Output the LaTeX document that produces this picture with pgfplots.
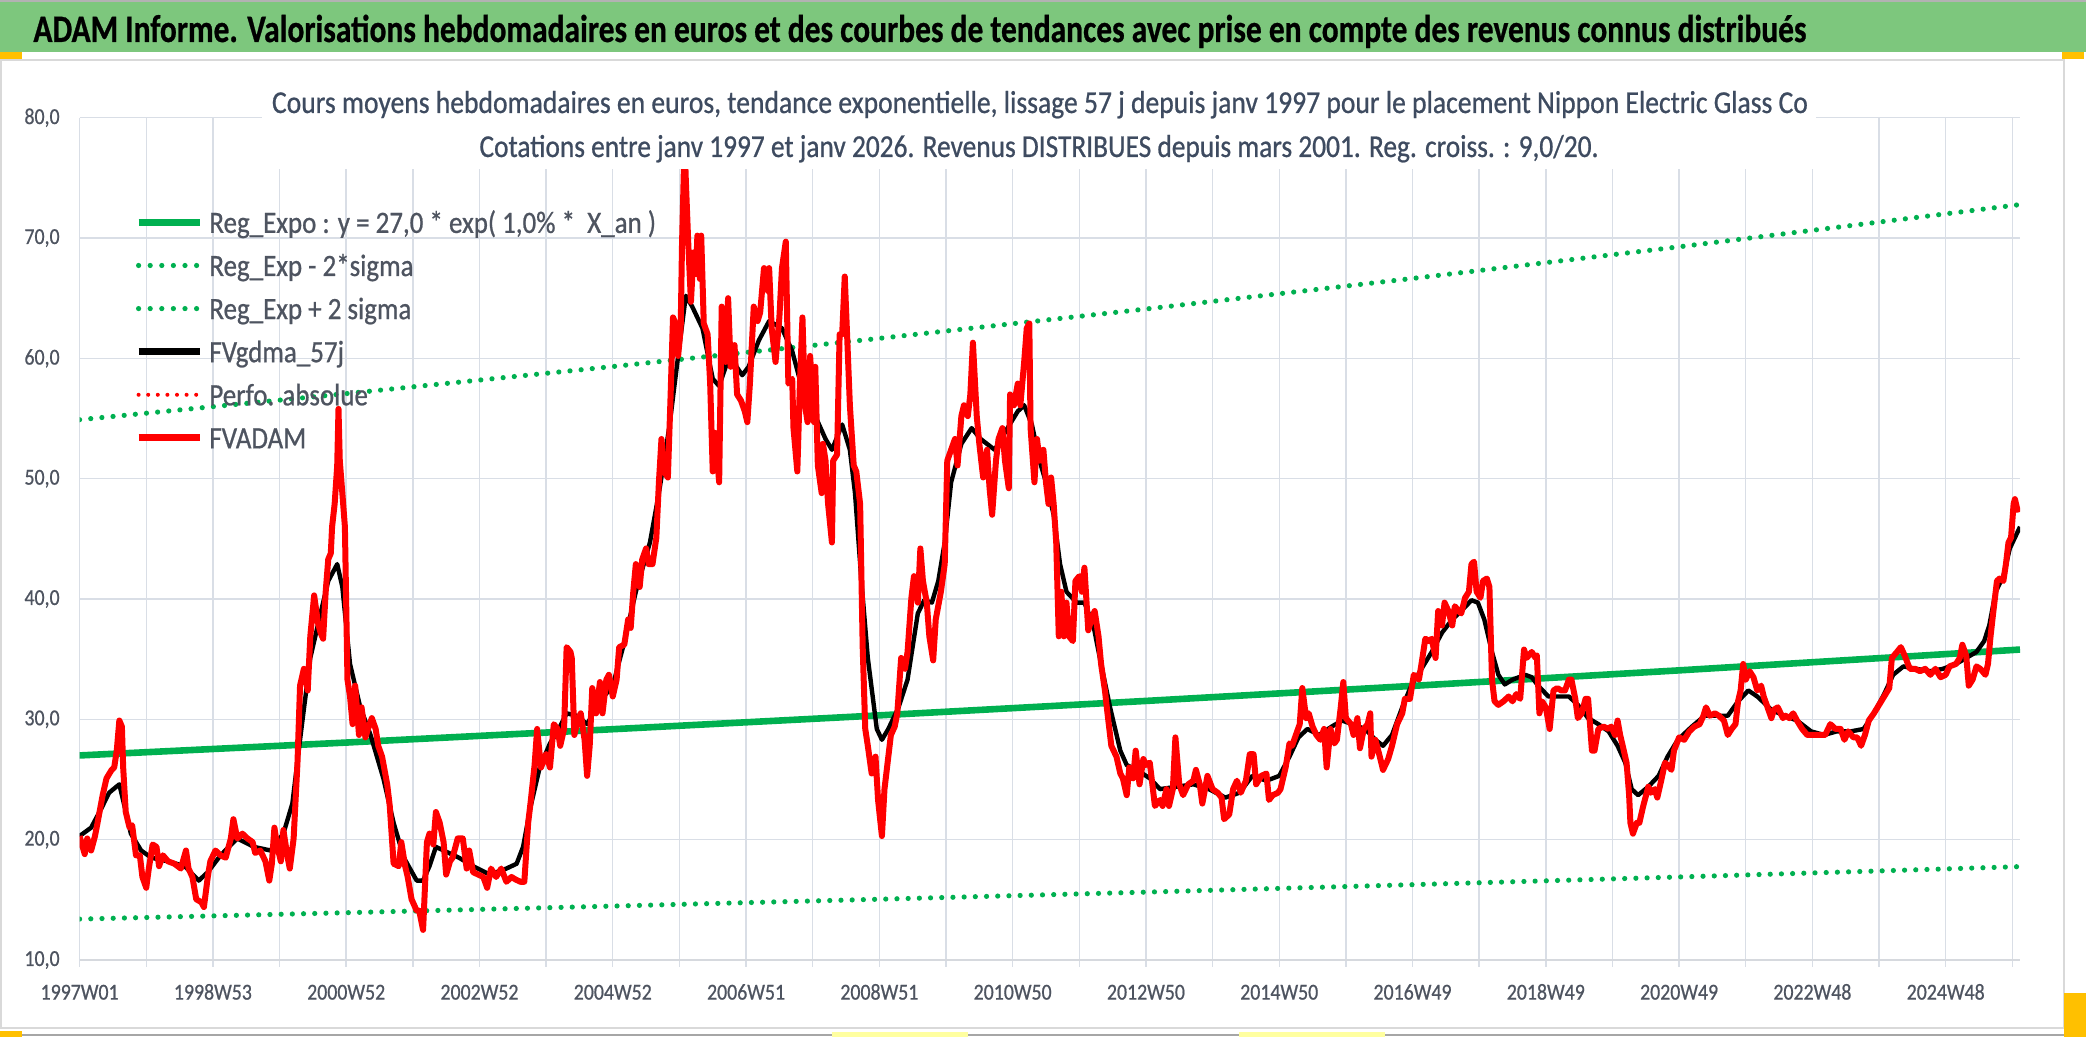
\documentclass[border=0pt]{standalone}
\usepackage{fontspec}
\setmainfont{Carlito}[FakeStretch=0.87, FakeBold=0.7]
\usepackage{graphicx}
\usepackage{pgfplots}
\pgfplotsset{compat=1.18}
\definecolor{banner}{RGB}{125,199,125}
\definecolor{xlgreen}{RGB}{0,176,80}
\definecolor{slate}{RGB}{62,75,96}
\definecolor{lbl}{RGB}{78,84,96}
\definecolor{gridc}{RGB}{217,222,230}
\definecolor{axisc}{RGB}{214,217,222}
\definecolor{framec}{RGB}{217,217,217}
\definecolor{handle}{RGB}{255,192,0}
\definecolor{lyellow}{RGB}{255,255,160}
\newcommand\lstrut{\rule[-4pt]{0pt}{16pt}}
\newdimen\fitlen
\newcommand\fitw[2]{\settowidth{\fitlen}{#2}\pgfmathsetmacro\fitsc{#1/\fitlen}\scalebox{\fitsc}[1]{#2}}
\begin{document}
\begin{tikzpicture}[x=1pt,y=1pt]
\useasboundingbox (0,0) rectangle (1043,518.5);
\fill[white] (0,0) rectangle (1043,518.5);
\fill[banner] (0,492.5) rectangle (1043,518);
\draw[gray!60, line width=0.8pt] (0,518.1) -- (1043,518.1);
\draw[framec, line width=1pt] (0.5,4.5) rectangle (1032,488.5);
\draw[gray!70, line width=0.8pt] (0,1) -- (1043,1);
\fill[handle] (0,489) rectangle (11,492.5);
\fill[handle] (0,0) rectangle (11,3);
\fill[handle] (1031,489) rectangle (1042,492.5);
\fill[handle] (1032,0) rectangle (1043,22);
\fill[lyellow] (416,0) rectangle (484,2.5);
\fill[lyellow] (619.5,0) rectangle (692.5,2.5);
\node[anchor=base west, inner sep=0pt] at (16.5,497.5) {\fitw{886.5}{\fontsize{19.4}{22}\selectfont\bfseries ADAM Informe. Valorisations hebdomadaires en euros et des courbes de tendances avec prise en compte des revenus connus distribués}};
\begin{axis}[
  at={(39.8pt,38.5pt)}, anchor=south west,
  scale only axis, width=970.2pt, height=421.15pt,
  xmin=0, xmax=1514, ymin=10, ymax=80,
  axis x line*=bottom, axis y line*=left,
  x axis line style={axisc, line width=1.4pt},
  y axis line style={draw=none},
  xtick={0,104,...,1456},
  xticklabels={1997W01,1998W53,2000W52,2002W52,2004W52,2006W51,2008W51,2010W50,2012W50,2014W50,2016W49,2018W49,2020W49,2022W48,2024W48},
  minor xtick={52,156,...,1508},
  ytick={10,20,...,80},
  yticklabels={{10,0},{20,0},{30,0},{40,0},{50,0},{60,0},{70,0},{80,0}},
  tick align=outside,
  major tick length=3.3pt, minor tick length=3.3pt,
  tick style={gridc, line width=0.7pt},
  ytick style={draw=none},
  grid=both,
  major grid style={gridc, line width=0.7pt},
  minor grid style={gridc, line width=0.7pt},
  /pgf/number format/assume math mode=true,
  tick label style={font=\fontsize{11.4}{13}\selectfont, text=lbl},
  x tick label style={inner sep=0pt, anchor=north, text height=7.3pt, text depth=0pt},
  y tick label style={inner sep=0pt, anchor=east},
  xticklabel shift=9pt, yticklabel shift=6.5pt,
  legend cell align=left,
  legend style={at={(axis description cs:0.02855,0.8947)}, anchor=north west,
    draw=none, fill=none, inner sep=0pt, outer sep=0pt,
    font=\fontsize{15.5}{18}\selectfont, text=lbl,
    nodes={inner sep=0pt}, row sep=5.55pt,
    /tikz/every odd column/.append style={column sep=2.8pt}},
  legend image code/.code={\path[draw=none, fill=none] (0pt,-8pt) rectangle (30.8pt,8pt); \draw[#1] (0pt,0pt) -- (30.8pt,0pt);},
]
\addplot[forget plot, xlgreen, line width=3.3pt] coordinates {(0,27.0) (208,28.07) (416,29.18) (624,30.33) (832,31.53) (1040,32.78) (1248,34.07) (1456,35.42) (1514,35.80)};
\addplot[forget plot, xlgreen, line width=2.6pt, line cap=round, dash pattern=on 0pt off 5.6pt] coordinates {(0,13.40) (208,13.93) (416,14.48) (624,15.05) (832,15.64) (1040,16.26) (1248,16.90) (1456,17.57) (1514,17.76)};
\addplot[forget plot, xlgreen, line width=2.6pt, line cap=round, dash pattern=on 0pt off 5.6pt] coordinates {(0,54.90) (208,57.07) (416,59.32) (624,61.66) (832,64.10) (1040,66.64) (1248,69.27) (1456,72.01) (1514,72.78)};
\addplot[forget plot, black, line width=2.2pt, line join=round] coordinates {
(0,20.3) (9,21.0) (17,22.6) (23,23.9) (31,24.6) (35,22.8) (40,20.5) (48,19.1) (56,18.5) (69,18.2) (82,17.8) (93,16.6) (100,17.3) (110,18.7) (123,20.1) (136,19.4) (149,19.1) (159,20.5) (166,23.0) (172,28.3) (180,35.1) (188,38.8) (194,41.5) (201,42.9) (205,41.0) (211,34.6) (219,31.0) (227,28.7) (237,25.1) (245,21.4) (253,18.5) (263,16.6) (268,16.6) (273,17.8) (278,19.4) (286,19.0) (296,18.5) (307,17.8) (320,17.1) (333,17.6) (341,18.0) (346,19.4) (352,22.8) (359,26.0) (367,28.0) (373,29.0) (380,30.5) (388,30.3) (396,29.6) (406,31.5) (416,32.8) (424,36.0) (434,40.6) (445,44.7) (452,48.8) (460,54.2) (467,60.2) (473,65.2) (478,64.3) (486,62.5) (494,58.3) (499,57.7) (507,60.2) (517,58.6) (522,59.3) (530,61.5) (538,63.1) (548,62.5) (556,60.6) (564,57.4) (574,55.2) (582,53.3) (587,52.4) (595,54.5) (601,52.4) (605,48.8) (610,41.5) (615,35.1) (622,29.2) (626,28.3) (631,29.2) (639,31.0) (646,33.3) (654,38.8) (659,39.9) (665,39.7) (670,41.5) (675,44.7) (680,49.7) (688,52.9) (696,54.2) (703,53.3) (714,52.4) (724,54.2) (732,55.6) (737,56.1) (743,54.5) (749,51.5) (754,49.7) (760,47.0) (765,42.9) (770,40.6) (778,39.7) (784,39.7) (791,37.8) (797,34.6) (804,31.0) (812,27.4) (817,26.2) (825,25.8) (835,25.1) (843,24.2) (856,24.4) (869,24.6) (881,24.2) (894,23.5) (905,23.9) (915,25.3) (926,24.9) (936,25.3) (944,26.9) (951,28.5) (958,29.2) (967,28.7) (977,29.4) (985,29.9) (993,29.6) (1003,29.2) (1011,28.3) (1017,27.8) (1024,28.7) (1032,31.0) (1039,32.8) (1047,34.2) (1055,35.6) (1063,37.2) (1071,38.3) (1078,39.0) (1086,39.9) (1091,39.7) (1096,38.3) (1102,35.6) (1107,33.7) (1112,32.9) (1118,33.3) (1123,33.5) (1128,33.7) (1133,33.5) (1138,32.8) (1146,31.9) (1154,31.9) (1162,31.9) (1169,31.2) (1177,30.1) (1185,29.6) (1193,29.0) (1200,27.8) (1206,26.4) (1211,24.2) (1216,23.7) (1224,24.4) (1232,25.3) (1239,26.9) (1247,28.3) (1258,29.4) (1268,30.3) (1279,30.3) (1286,30.3) (1294,31.5) (1302,32.4) (1309,31.9) (1320,30.8) (1330,30.3) (1340,29.9) (1351,29.0) (1361,28.7) (1371,29.0) (1382,29.0) (1392,29.2) (1400,30.5) (1408,32.1) (1415,33.7) (1423,34.4) (1433,34.2) (1444,34.0) (1454,34.2) (1464,34.6) (1472,35.1) (1480,35.6) (1486,36.5) (1490,37.8) (1495,40.6) (1501,41.9) (1506,44.2) (1510,45.1) (1514,46.0)};
\addplot[forget plot, red, line width=3pt, line join=round] coordinates {
(0,20.3) (4,18.8) (6,20.1) (9,19.1) (12,20.3) (14,21.4) (18,23.7) (21,25.1) (25,25.8) (27,26.0) (29,27.4) (31,29.9) (33,29.4) (34,26.0) (36,22.3) (39,21.0) (41,21.2) (44,18.7) (47,18.7) (49,16.9) (52,16.0) (54,17.6) (57,19.6) (60,19.4) (62,17.8) (65,18.7) (69,18.2) (74,18.0) (79,17.6) (83,19.1) (85,17.6) (88,16.9) (91,15.05) (95,14.8) (97,14.4) (100,16.9) (102,18.2) (106,19.1) (110,18.7) (114,18.5) (118,20.1) (120,21.7) (123,20.1) (127,20.5) (131,20.1) (135,19.8) (137,18.9) (141,19.1) (145,18.2) (148,16.6) (150,18.0) (152,21.0) (154,19.6) (157,18.2) (159,20.8) (162,18.7) (164,17.6) (167,20.1) (170,26.4) (172,32.8) (175,34.2) (178,32.4) (180,36.9) (183,40.3) (186,38.0) (188,37.2) (190,36.7) (192,40.6) (194,43.3) (196,43.8) (197,46.0) (199,47.9) (201,51.1) (202,55.8) (203,51.5) (205,48.8) (207,46.0) (209,33.3) (211,31.9) (213,29.6) (215,32.8) (218,28.7) (220,31.0) (223,28.5) (225,29.2) (228,30.1) (231,29.2) (233,27.8) (236,26.9) (240,24.6) (242,22.8) (245,18.0) (249,17.8) (251,19.8) (254,17.8) (256,16.9) (259,15.05) (263,14.1) (265,14.1) (268,12.5) (271,19.8) (273,20.5) (276,19.6) (278,22.3) (281,21.4) (284,19.8) (286,17.1) (289,18.2) (291,18.5) (295,20.1) (299,20.1) (302,17.6) (304,19.1) (307,17.3) (311,17.1) (315,16.9) (318,16.0) (321,17.6) (325,16.9) (329,17.6) (333,16.5) (337,16.9) (340,16.7) (344,16.5) (347,16.5) (350,21.4) (352,23.2) (355,26.2) (357,29.2) (360,26.0) (364,27.1) (367,26.0)
(370,29.6) (373,29.2) (375,27.8) (378,29.2) (380,36.0) (383,35.6) (384,35.1) (386,28.7) (388,29.6) (391,30.5) (394,28.3) (396,25.3) (398,27.8) (400,32.6) (403,30.5) (406,33.1) (408,30.5) (411,33.3) (413,33.7) (416,31.9) (419,33.3) (421,36.0) (425,36.2) (428,38.3) (430,37.6) (432,40.6) (434,42.9) (437,41.0) (439,43.3) (442,44.2) (444,42.9) (447,42.9) (450,45.1) (452,49.7) (454,53.3) (456,50.6) (459,50.1) (461,56.5) (463,63.4) (465,62.9) (467,60.2) (469,62.5) (470,69.3) (472,78.0) (473,74.8) (475,69.3) (477,64.7) (479,68.8) (481,67.0) (482,70.2) (484,66.6) (485,70.2) (487,62.9) (490,62.0) (492,57.9) (494,50.6) (496,53.8) (499,49.7) (501,64.3) (504,59.7) (506,65.0) (508,59.3) (511,61.1) (513,57.0) (516,56.5) (519,55.6) (521,54.7) (523,57.9) (526,64.3) (529,63.1) (531,63.8) (534,67.5) (537,65.6) (538,67.5) (540,62.5) (543,59.7) (546,63.4) (548,67.5) (551,69.7) (553,57.9) (556,58.3) (557,54.2) (560,50.6) (562,57.9) (564,63.4) (566,56.1) (568,54.7) (570,60.2) (573,54.7) (574,59.3) (576,51.1) (579,48.8) (580,52.9) (582,51.5) (584,47.9) (587,44.7) (588,51.5) (591,52.0) (593,62.0) (595,62.0) (597,66.8) (599,61.5) (601,56.1) (604,51.1) (606,50.6) (609,47.9) (611,36.0) (613,29.2) (615,27.8) (618,25.5) (621,26.9) (623,23.3) (626,20.3) (628,24.2) (630,26.0) (633,28.7) (636,29.4) (638,30.5) (641,35.1) (644,34.2) (646,35.6) (649,40.1) (651,41.9) (654,39.7) (656,44.2) (658,41.5) (661,39.7) (663,36.9) (666,34.9) (668,38.3) (672,40.6) (675,42.9) (677,51.5) (680,52.4) (683,53.3) (685,51.1) (688,55.2) (690,56.1) (693,55.2) (695,57.0) (697,61.3) (700,55.2) (702,52.9) (705,50.1) (708,52.4) (710,49.2) (712,47.0) (715,51.5) (717,53.3) (720,54.2) (722,51.5) (725,49.2) (726,57.0) (729,56.1) (732,57.9) (734,56.1) (737,59.7) (739,62.5) (741,62.9)
(742,54.2) (745,49.7) (747,53.3) (749,51.5) (752,52.4) (754,49.7) (756,47.9) (758,50.1) (760,47.9) (762,44.7) (764,36.9) (766,40.6) (768,36.9) (770,39.7) (772,36.9) (775,36.5) (777,41.5) (780,41.9) (782,40.6) (784,42.6) (787,37.4) (790,38.5) (792,39.0) (795,36.9) (797,34.6) (800,32.4) (802,30.5) (805,27.8) (809,26.9) (812,25.5) (814,25.1) (817,23.7) (819,26.0) (822,25.1) (824,27.4) (827,24.6) (830,26.7) (832,26.2) (835,26.4) (839,22.8) (843,23.3) (845,22.8) (848,24.2) (850,22.8) (853,24.2) (855,28.5) (858,24.6) (861,23.7) (865,24.6) (869,24.9) (871,25.8) (874,24.6) (876,23.0) (880,25.3) (884,24.2) (888,23.9) (891,23.5) (893,21.7) (897,22.1) (900,24.2) (903,24.9) (906,23.9) (910,24.9) (913,27.1) (916,27.1) (918,24.6) (922,25.3) (926,25.5) (928,23.3) (931,23.7) (935,23.9) (937,24.2) (941,26.0) (944,28.0) (946,27.8) (949,28.7) (952,29.6) (954,32.6) (957,30.1) (959,30.5) (962,29.4) (965,28.7) (968,28.3) (971,29.2) (973,26.0) (976,29.2) (979,28.0) (981,28.3) (984,31.0) (986,33.1) (988,30.1) (992,29.6) (994,28.7) (997,30.1) (999,27.6) (1002,29.2) (1005,29.6) (1007,30.5) (1008,26.9) (1011,28.3) (1014,27.1) (1017,25.8) (1021,26.7) (1024,27.8) (1028,29.6) (1032,30.5) (1034,31.7) (1038,31.7) (1041,33.7) (1045,33.3) (1047,34.6) (1050,36.7) (1053,36.5) (1055,36.7) (1058,35.1) (1060,39.0) (1063,37.8) (1065,39.7) (1068,39.0) (1071,37.8) (1073,39.4) (1076,39.0) (1078,38.8) (1081,40.1) (1084,40.6) (1086,42.9) (1088,43.1) (1090,40.6) (1093,40.1) (1095,41.5) (1098,41.7) (1100,41.0) (1102,33.3) (1104,31.5) (1107,31.2) (1111,31.5)
(1115,31.9) (1118,31.5) (1121,32.1) (1124,31.7) (1127,35.8) (1129,35.1) (1133,35.6) (1136,35.1) (1137,35.3) (1139,30.5) (1141,31.5) (1144,31.0) (1147,29.2) (1150,32.4) (1153,32.6) (1156,32.4) (1159,32.4) (1162,33.3) (1164,33.3) (1167,31.7) (1169,30.1) (1172,30.5) (1175,31.7) (1177,31.7) (1180,27.4) (1182,27.4) (1185,29.2) (1189,29.4) (1193,29.2) (1195,29.4) (1198,28.7) (1200,29.9) (1202,28.7) (1204,27.8) (1207,26.4) (1209,23.7) (1210,21.4) (1212,20.5) (1215,21.4) (1217,21.4) (1220,22.8) (1224,24.4) (1226,23.9) (1229,24.2) (1231,23.5) (1234,24.9) (1237,26.4) (1239,26.2) (1242,25.8) (1244,27.4) (1248,28.5) (1252,28.3) (1256,29.0) (1260,29.4) (1264,29.6) (1267,30.3) (1269,31.0) (1272,30.3) (1276,30.5) (1279,30.3) (1283,29.9) (1286,28.7) (1289,29.2) (1292,29.6) (1294,31.5) (1296,32.4) (1298,34.6) (1300,33.3) (1303,34.0) (1306,33.5) (1309,32.4) (1312,32.8) (1314,31.9) (1317,31.0) (1320,30.1) (1322,30.8) (1325,31.0) (1329,30.1) (1331,30.3) (1334,30.1) (1337,30.5) (1340,29.9) (1344,29.2) (1348,28.7) (1353,28.7) (1358,28.7) (1362,28.7) (1366,29.6) (1370,29.2) (1374,29.2) (1377,28.3) (1380,29.0) (1384,28.5) (1387,28.5) (1390,27.8) (1393,28.7) (1396,29.9) (1400,30.5) (1404,31.2) (1408,31.9) (1412,32.6) (1414,35.1) (1418,35.6) (1421,36.0) (1424,35.3) (1428,34.2) (1432,34.2) (1436,34.0) (1440,34.2) (1444,33.7) (1448,34.2) (1452,33.5) (1456,33.7) (1459,34.4) (1464,34.6) (1467,35.1) (1469,36.2) (1472,35.3) (1474,32.8) (1477,33.3) (1480,34.4) (1483,34.2) (1487,33.7) (1489,34.6) (1491,36.9) (1493,38.8) (1496,41.5) (1498,41.7) (1501,41.5) (1503,42.9) (1505,44.7) (1507,45.1) (1509,47.9) (1510,48.3) (1512,47.4) (1514,47.6)};
\addlegendimage{xlgreen, line width=3.6pt}
\addlegendentry{\lstrut Reg\_Expo : y = 27,0 * exp( 1,0\% *~ X\_an )}
\addlegendimage{xlgreen, line width=2.6pt, line cap=round, dash pattern=on 0pt off 5.8pt}
\addlegendentry{\lstrut Reg\_Exp - 2*sigma}
\addlegendimage{xlgreen, line width=2.6pt, line cap=round, dash pattern=on 0pt off 5.8pt}
\addlegendentry{\lstrut Reg\_Exp + 2 sigma}
\addlegendimage{black, line width=3.3pt}
\addlegendentry{\lstrut FVgdma\_57j}
\addlegendimage{red, line width=2pt, line cap=round, dash pattern=on 0pt off 4.8pt}
\addlegendentry{\lstrut Perfo. absolue}
\addlegendimage{red, line width=3.6pt}
\addlegendentry{\lstrut FVADAM}
\end{axis}
\fill[white] (131,434) rectangle (908,488);
\node[anchor=base, inner sep=0pt, text=slate] at (520,462) {\fitw{768}{\fontsize{15.9}{18}\selectfont Cours moyens hebdomadaires en euros, tendance exponentielle, lissage 57 j depuis janv 1997 pour le placement Nippon Electric Glass Co}};
\node[anchor=base, inner sep=0pt, text=slate] at (519.5,440) {\fitw{559.5}{\fontsize{15.9}{18}\selectfont Cotations entre janv 1997 et janv 2026. Revenus DISTRIBUES depuis mars 2001. Reg. croiss. : 9,0/20.}};
\end{tikzpicture}
\end{document}
